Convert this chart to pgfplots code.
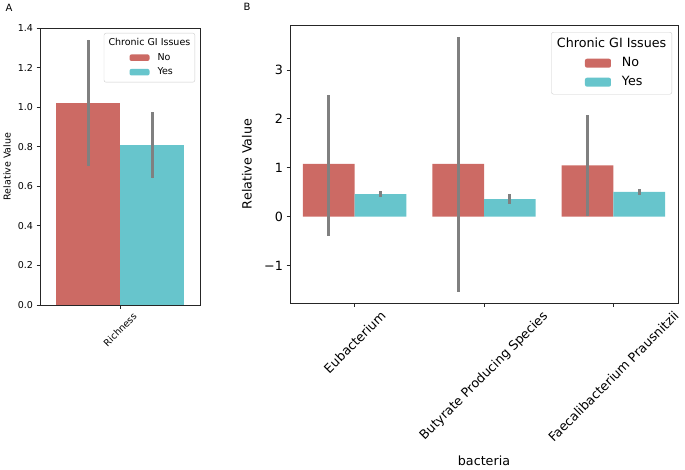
\documentclass[border=0pt]{standalone}
\usepackage{graphicx}
\usepackage{pgfplots}
\pgfplotsset{compat=1.18}
\usepackage{fontspec}
\setmainfont{DejaVu Sans}
\definecolor{cNo}{RGB}{204,106,100}
\definecolor{cYes}{RGB}{103,197,204}
\definecolor{cErr}{RGB}{128,128,128}
\newcommand\fA{\fontsize{9.5}{11.4}\selectfont}
\newcommand\fB{\fontsize{12.7}{15.2}\selectfont}

\pgfplotsset{
  common/.style={
    scale only axis, anchor=south west,
    tick align=outside, tick pos=left, major tick length=3.5pt,
    axis line style={line width=0.9pt, black!85},
    every tick/.style={line width=0.9pt, black!85},
    /pgf/number format/assume math mode=true,
    legend cell align=left,
  },
  errs/.style={/pgfplots/error bars/.cd, y dir=both, y explicit,
    error bar style={line width=3pt, cErr}, error mark=none, /pgfplots/.cd},
}

\begin{document}
\begin{tikzpicture}
\useasboundingbox (0pt,0pt) rectangle (685pt,469pt);

% ---------- Panel A ----------
\begin{axis}[common,
  at={(40pt,164pt)}, width=160pt, height=277pt,
  xmin=-0.5, xmax=0.5, ymin=0, ymax=1.4,
  xtick={0}, xticklabels={\rotatebox{45}{Richness}},
  xticklabel style={anchor=north, font=\fA},
  ytick={0,0.2,0.4,0.6,0.8,1.0,1.2,1.4},
  yticklabel style={font=\fA, /pgf/number format/fixed, /pgf/number format/fixed zerofill, /pgf/number format/precision=1},
  ylabel={Relative Value},
  every axis y label/.style={at={(axis description cs:0,0.5)}, xshift=-33pt, rotate=90, anchor=center, font=\fA},
  legend style={at={(axis description cs:1,1)}, anchor=north east, xshift=-5pt, yshift=-5pt,
    draw=black!20, rounded corners=2pt, fill=white, inner xsep=4.5pt, inner ysep=5.5pt,
    column sep=8pt, row sep=5.5pt,
    nodes={inner sep=0pt, text height=7pt, text depth=2pt, font=\fA}},
]
\addlegendimage{empty legend}
\addlegendentry{\hspace*{-49pt}Chronic GI Issues}
\addplot[ybar, bar width=0.4, bar shift=0pt, fill=cNo, draw=none,
  legend image code/.code={\path (0pt,0pt); \fill[cNo] (21pt,-3.3pt) rectangle (41pt,3.3pt);}, errs]
  table[x=x, y=y, y error plus=ep, y error minus=em] {
x y ep em
-0.2 1.02 0.32 0.32
};
\addlegendentry{No}
\addplot[ybar, bar width=0.4, bar shift=0pt, fill=cYes, draw=none,
  legend image code/.code={\path (0pt,0pt); \fill[cYes] (21pt,-3.3pt) rectangle (41pt,3.3pt);}, errs]
  table[x=x, y=y, y error plus=ep, y error minus=em] {
x y ep em
0.2 0.81 0.165 0.17
};
\addlegendentry{Yes}
\end{axis}

% ---------- Panel B ----------
\begin{axis}[common,
  at={(290pt,166pt)}, width=388pt, height=278pt,
  xmin=-0.5, xmax=2.5, ymin=-1.765, ymax=3.92,
  xtick={0,1,2},
  xticklabels={\rotatebox{45}{Eubacterium}, \rotatebox{45}{Butyrate Producing Species}, \rotatebox{45}{Faecalibacterium Prausnitzii}},
  xticklabel style={anchor=north, font=\fB},
  ytick={-1,0,1,2,3}, yticklabels={−1,0,1,2,3},
  yticklabel style={font=\fB},
  ylabel={Relative Value},
  every axis y label/.style={at={(axis description cs:0,0.5)}, xshift=-43pt, rotate=90, anchor=center, font=\fB},
  xlabel={bacteria},
  every axis x label/.style={at={(axis description cs:0.5,0)}, anchor=base, inner sep=0pt, yshift=-162pt, font=\fB},
  legend style={at={(axis description cs:1,1)}, anchor=north east, xshift=-6pt, yshift=-7pt,
    draw=black!20, rounded corners=2pt, fill=white, inner xsep=5.5pt, inner ysep=6pt,
    column sep=11pt, row sep=7pt,
    nodes={inner sep=0pt, text height=9.3pt, text depth=2.7pt, font=\fB}},
]
\addlegendimage{empty legend}
\addlegendentry{\hspace*{-65pt}Chronic GI Issues}
\addplot[ybar, bar width=0.4, bar shift=0pt, fill=cNo, draw=none,
  legend image code/.code={\path (0pt,0pt); \fill[cNo] (28pt,-4.5pt) rectangle (54pt,4.5pt);}, errs]
  table[x=x, y=y, y error plus=ep, y error minus=em] {
x y ep em
-0.2 1.08 1.41 1.47
0.8 1.08 2.59 2.62
1.8 1.05 1.02 1.04
};
\addlegendentry{No}
\addplot[ybar, bar width=0.4, bar shift=0pt, fill=cYes, draw=none,
  legend image code/.code={\path (0pt,0pt); \fill[cYes] (28pt,-4.5pt) rectangle (54pt,4.5pt);}, errs]
  table[x=x, y=y, y error plus=ep, y error minus=em] {
x y ep em
0.2 0.46 0.07 0.06
1.2 0.36 0.10 0.10
2.2 0.51 0.05 0.07
};
\addlegendentry{Yes}
\end{axis}

\node[font=\fontsize{10}{12}\selectfont] at (9pt,461.5pt) {A};
\node[font=\fontsize{10}{12}\selectfont] at (247pt,462pt) {B};
\end{tikzpicture}
\end{document}
